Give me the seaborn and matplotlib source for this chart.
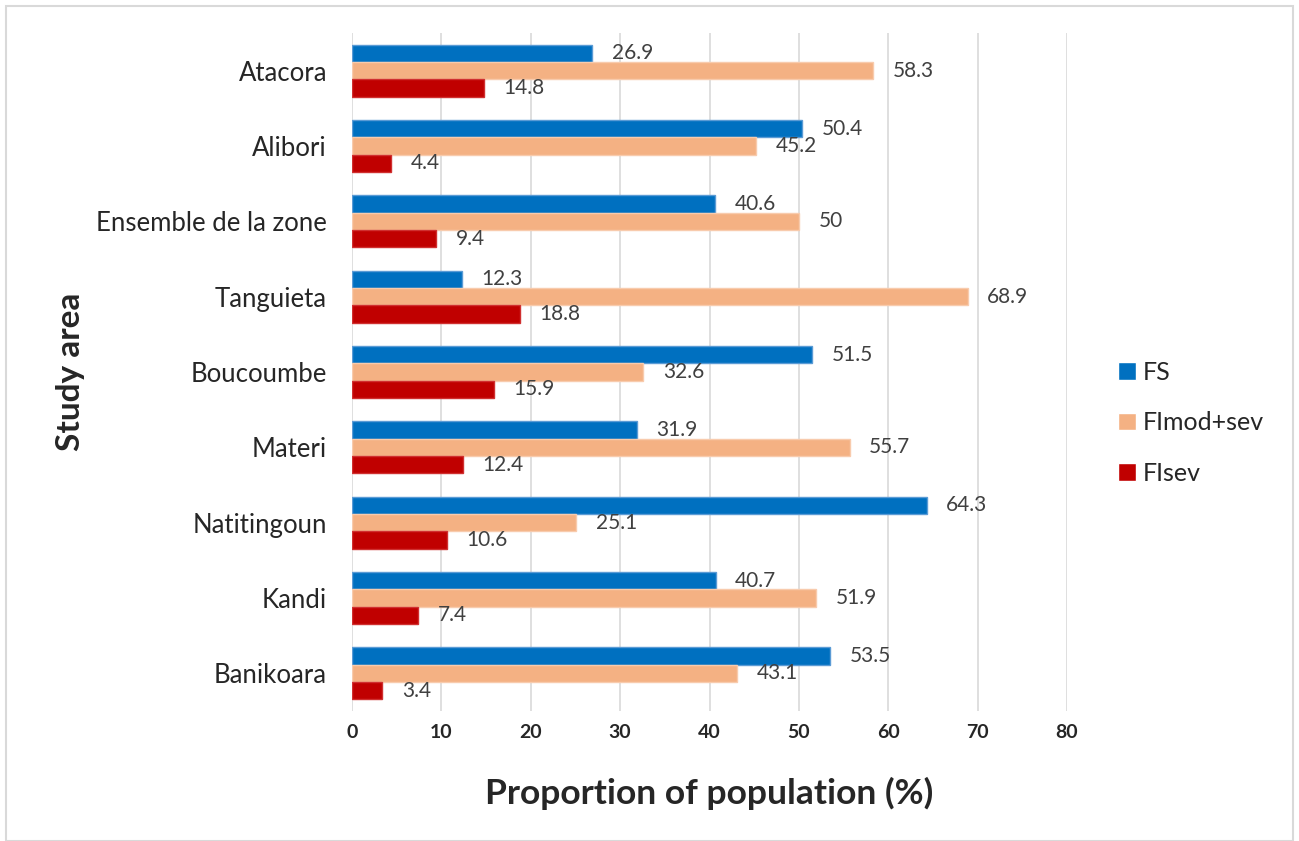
import pandas as pd
import numpy as np
import matplotlib.pyplot as plt
import seaborn as sns

# ----------------------------------------------------------
# DATA
# ----------------------------------------------------------
areas = ["Atacora", "Alibori", "Ensemble de la zone", "Tanguieta", "Boucoumbe",
         "Materi", "Natitingoun", "Kandi", "Banikoara"]
fs = [26.9, 50.4, 40.6, 12.3, 51.5, 31.9, 64.3, 40.7, 53.5]
fimod = [58.3, 45.2, 50, 68.9, 32.6, 55.7, 25.1, 51.9, 43.1]
fisev = [14.8, 4.4, 9.4, 18.8, 15.9, 12.4, 10.6, 7.4, 3.4]
series = ["FS", "FImod+sev", "FIsev"]

df = pd.DataFrame({"area": areas, "FS": fs, "FImod+sev": fimod, "FIsev": fisev})
long = df.melt(id_vars="area", value_vars=series, var_name="indicator", value_name="value")

colors = {"FS": "#0070C0", "FImod+sev": "#F4B183", "FIsev": "#C00000"}
edges = {"FS": "#5B9BD5", "FImod+sev": "#F8CBAD", "FIsev": "#D03030"}

# ----------------------------------------------------------
# PLOT
# ----------------------------------------------------------
sns.set_style("white")
plt.rcParams["font.family"] = ["Lato", "DejaVu Sans"]

fig = plt.figure(figsize=(12.99, 8.41), dpi=100)
ax = fig.add_axes([352 / 1299, 1 - 711 / 841, (1067 - 352) / 1299, (711 - 33) / 841])

sns.barplot(data=long, y="area", x="value", hue="indicator", hue_order=series,
            order=areas, palette=colors, orient="h", width=0.69, ax=ax,
            saturation=1, legend=True)

for cont, name in zip(ax.containers, series):
    for bar in cont:
        bar.set_edgecolor(edges[name])
        bar.set_linewidth(1.0)
    ax.bar_label(cont, labels=[f"{v:g}" for v in cont.datavalues], padding=14,
                 fontsize=15, color="#404040")

ax.set_xlim(0, 80)
ax.set_xticks(np.arange(0, 81, 10))
ax.grid(axis="x", color="#d9d9d9", linewidth=1.2)
ax.set_axisbelow(True)
for s in ax.spines.values():
    s.set_visible(False)

ax.tick_params(axis="x", labelsize=14, length=0, pad=9)
ax.tick_params(axis="y", labelsize=18.5, length=0, pad=18)
for t in ax.get_xticklabels():
    t.set_fontweight("bold")

ax.set_xlabel("Proportion of population (%)", fontsize=25.5, fontweight="bold", labelpad=26)
ax.set_ylabel("Study area", fontsize=24, fontweight="bold", labelpad=8)

handles, labels = ax.get_legend_handles_labels()
ax.legend(handles, labels, loc="center left", bbox_to_anchor=(1.04, 0.425), frameon=False,
          fontsize=18, handlelength=0.7, handleheight=0.7, labelspacing=1.1,
          handletextpad=0.3)

# outer light border
fig.patches.append(plt.Rectangle((6 / 1299, 0), 1 - 12 / 1299, 1 - 6 / 841,
                                 transform=fig.transFigure, fill=False,
                                 edgecolor="#d9d9d9", linewidth=1.5))

plt.savefig("out.png", dpi=100)
